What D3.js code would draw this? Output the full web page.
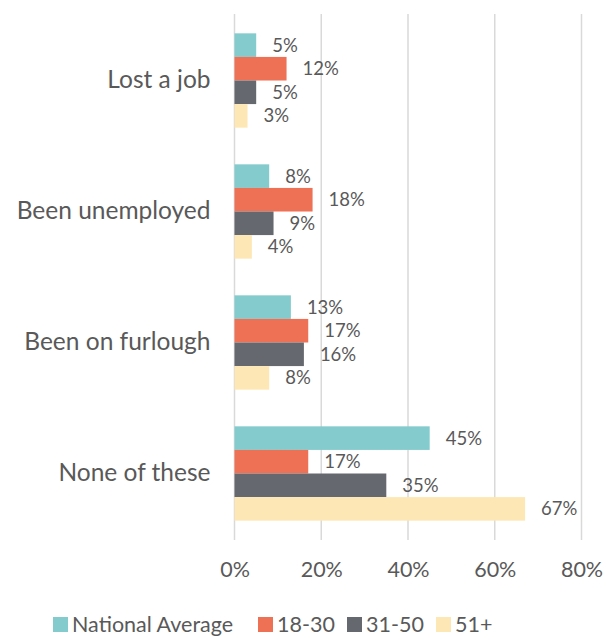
<!DOCTYPE html>
<html>
<head>
<meta charset="utf-8">
<script src="https://cdn.jsdelivr.net/npm/d3@7"></script>
<style>
  html, body { margin: 0; padding: 0; background: #fff; }
  svg text { font-family: Lato, "Open Sans", sans-serif; fill: #595959; }
</style>
</head>
<body>
<svg id="chart" width="613" height="638"></svg>
<script>
// Survey answers by age group (percent of respondents)
const categories = ["Lost a job", "Been unemployed", "Been on furlough", "None of these"];
const seriesNames = ["National Average", "18-30", "31-50", "51+"];
const nationalAverage = [5, 8, 13, 45];
const age18to30 = [12, 18, 17, 17];
const age31to50 = [5, 9, 16, 35];
const age51plus = [3, 4, 8, 67];
const seriesColors = ["#84CBCE", "#EE7155", "#65696F", "#FDE8B5"];
const xTicks = [0, 20, 40, 60, 80];

const seriesValues = [nationalAverage, age18to30, age31to50, age51plus];

const svg = d3.select("#chart");
const margin = { left: 234.5, right: 31.5, top: 15, bottom: 99 };
const W = 613, H = 638;

const x = d3.scaleLinear().domain([0, 80]).range([margin.left, W - margin.right]);
const y0 = d3.scaleBand().domain(categories).range([margin.top, H - margin.bottom]).paddingInner(0.28).paddingOuter(0.14);
const y1 = d3.scaleBand().domain(seriesNames).range([0, y0.bandwidth()]);

// vertical gridlines
svg.append("g")
  .selectAll("line")
  .data(xTicks)
  .join("line")
  .attr("x1", d => x(d)).attr("x2", d => x(d))
  .attr("y1", 14).attr("y2", 540)
  .attr("stroke", "#d9d9d9")
  .attr("stroke-width", 1.5);

// bars grouped by category
const groups = svg.append("g")
  .selectAll("g")
  .data(categories)
  .join("g")
  .attr("transform", c => `translate(0,${y0(c)})`);

const cells = groups.selectAll("g")
  .data((c, ci) => seriesNames.map((s, si) => ({ s, si, v: seriesValues[si][ci] })))
  .join("g");

cells.append("rect")
  .attr("x", x(0))
  .attr("y", d => y1(d.s))
  .attr("width", d => x(d.v) - x(0))
  .attr("height", y1.bandwidth())
  .attr("fill", d => seriesColors[d.si]);

cells.append("text")
  .attr("x", d => x(d.v) + 16)
  .attr("y", d => y1(d.s) + y1.bandwidth() / 2)
  .attr("dy", "0.35em")
  .attr("font-size", 18.5)
  .text(d => d.v + "%");

// category labels
const yAxis = d3.axisLeft(y0).tickSize(0).tickPadding(24);
const gy = svg.append("g").attr("transform", `translate(${x(0)},0)`).call(yAxis);
gy.select(".domain").remove();
gy.selectAll("text").attr("font-size", 24.5).attr("fill", "#595959")
  .style("font-family", "Lato, 'Open Sans', sans-serif");

// x axis tick labels
const xAxis = d3.axisBottom(x).tickValues(xTicks).tickFormat(d => d + "%").tickSize(0).tickPadding(22);
const gx = svg.append("g").attr("transform", `translate(0,540)`).call(xAxis);
gx.select(".domain").remove();
gx.selectAll("text").attr("font-size", 21.5).attr("fill", "#595959")
  .style("font-family", "Lato, 'Open Sans', sans-serif");

// legend
const legendX = [53, 258, 347, 436];
const legend = svg.append("g")
  .selectAll("g")
  .data(seriesNames)
  .join("g")
  .attr("transform", (d, i) => `translate(${legendX[i]},624)`);
legend.append("rect")
  .attr("x", 0).attr("y", -7)
  .attr("width", 15).attr("height", 15)
  .attr("fill", (d, i) => seriesColors[i]);
legend.append("text")
  .attr("x", 19).attr("y", 0).attr("dy", "0.35em")
  .attr("font-size", 21.5)
  .text(d => d);
</script>
</body>
</html>
